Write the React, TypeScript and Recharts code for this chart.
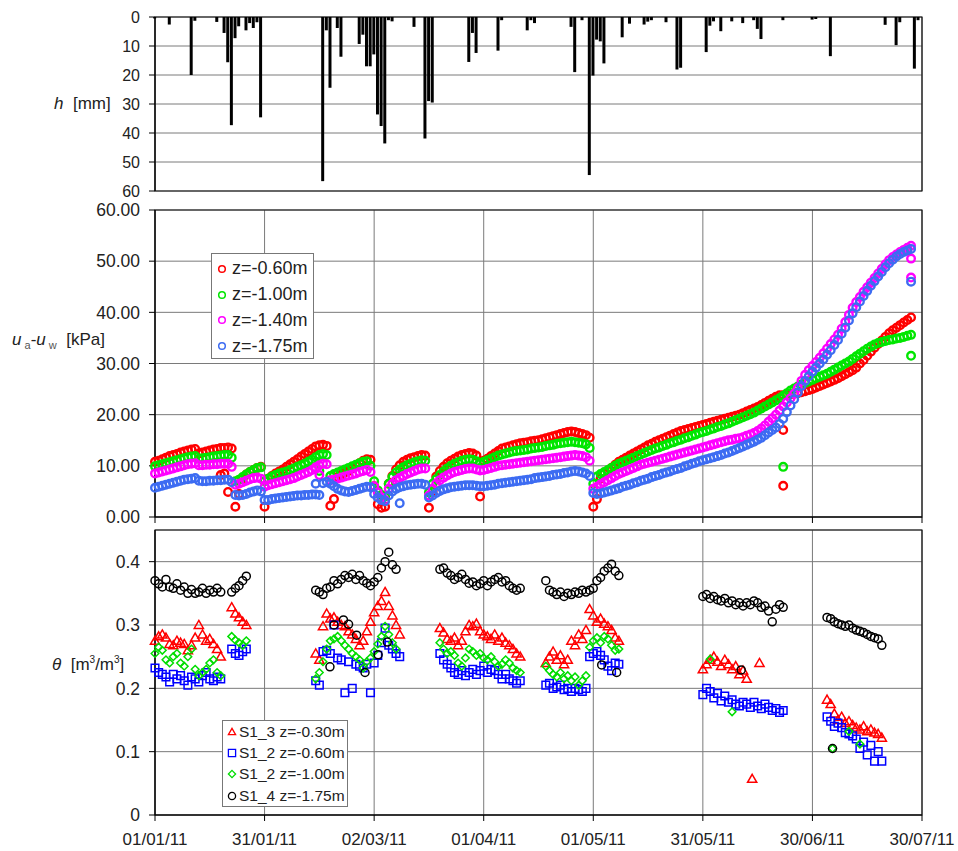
import React from "react";
import {
  BarChart,
  Bar,
  ScatterChart,
  Scatter,
  XAxis,
  YAxis,
  CartesianGrid,
  ReferenceArea,
  Legend,
} from "recharts";

const FONT = '"Liberation Sans", Arial, sans-serif';
const TEXT = "#222";

// x axis: days counted from 01/01/11
const dayTicks = [0, 30, 60, 90, 120, 150, 180, 210];
const dateLabels = ["01/01/11", "31/01/11", "02/03/11", "01/04/11", "01/05/11", "31/05/11", "30/06/11", "30/07/11"];

// daily rainfall h [mm]
const rainDay = [
  0, 4, 10, 11, 17, 19, 20, 21, 22, 23, 25, 26, 27, 28, 29, 46, 47, 48, 50, 51,
  56, 57, 58, 59, 60, 61, 62, 63, 64, 65, 71, 74, 75, 76, 86, 87, 88, 94, 95, 102,
  103, 104, 114, 115, 117, 119, 120, 121, 122, 123, 128, 130, 134, 135, 136, 140, 143, 144, 151, 152,
  153, 155, 158, 161, 164, 165, 166, 172, 180, 181, 185, 200, 203, 204, 208, 209,
];
const rainMm = [
  0.5, 2.6, 20, 1.3, 1.7, 5.5, 15.6, 37.3, 7.3, 3.2, 4.6, 2.1, 3.8, 1.8, 34.6, 56.6, 4.6, 24.4, 3.8, 13.7,
  9.3, 6.1, 17, 17, 12.9, 33.6, 37.6, 43.6, 1.1, 1.5, 3.4, 41.9, 29, 29.5, 15.5, 5.5, 12.4, 11.6, 1.1, 4.6,
  1.1, 2.1, 3.4, 19, 1.1, 54.5, 20.2, 7.8, 8.4, 16, 7, 2.3, 2.6, 1.6, 1.1, 1.8, 18.1, 17.5, 12.1, 3,
  1.5, 4.9, 1.5, 2.1, 1.1, 4.1, 7.6, 1.1, 0.9, 0.7, 13.5, 2.7, 9.7, 1.8, 17.8, 1.1,
];

// suction ua-uw [kPa], one value per day from day 0
const suction060 = [
  10.8, 11.0, 11.3, 11.6, 11.9, 12.1, 12.3, 12.6, 12.8, 13.0,
  13.2, 13.3, 12.4, 12.6, 12.8, 13.0, 13.2, 13.3, 13.5, 13.5,
  13.6, 13.4, 2.0, 4.5, 7.5, 8.3, 8.8, 9.2, 9.6, 9.8,
  2.0, 7.5, 8.0, 8.5, 8.9, 9.3, 9.8, 10.3, 10.8, 11.3,
  11.8, 12.3, 12.8, 13.3, 13.8, 14.0, 14.1, 13.9, 2.2, 3.5,
  7.8, 8.3, 8.7, 9.0, 9.5, 10.0, 10.5, 11.0, 11.3, 11.2,
  6.0, 2.5, 1.8, 2.0, 6.5, 8.0, 9.3, 10.1, 10.8, 11.2,
  11.5, 11.7, 11.9, 12.1, 12.0, 1.8, 5.0, 7.9, 9.0, 9.8,
  10.5, 11.0, 11.4, 11.8, 12.1, 12.3, 12.5, 12.4, 12.0, 4.0,
  11.0, 11.4, 11.9, 12.4, 12.9, 13.4, 13.6, 13.8, 14.0, 14.2,
  14.4, 14.5, 14.6, 14.8, 14.9, 15.0, 15.2, 15.4, 15.6, 15.8,
  16.0, 16.2, 16.4, 16.6, 16.7, 16.6, 16.4, 16.2, 16.0, 15.5,
  2.0, 3.5, 7.5, 8.5, 9.0, 9.6, 10.2, 10.8, 11.2, 11.6,
  12.0, 12.4, 12.8, 13.2, 13.6, 14.0, 14.3, 14.7, 15.0, 15.3,
  15.6, 15.9, 16.2, 16.5, 16.8, 17.0, 17.2, 17.4, 17.6, 17.8,
  18.0, 18.2, 18.4, 18.6, 18.8, 19.0, 19.2, 19.4, 19.6, 19.8,
  20.0, 20.3, 20.6, 20.9, 21.2, 21.5, 21.9, 22.3, 22.7, 23.1,
  23.5, 23.8, 23.8, 23.9, 24.0, 24.1, 24.2, 24.4, 24.6, 24.8,
  25.0, 25.3, 25.6, 25.9, 26.2, 26.5, 26.8, 27.1, 27.5, 27.9,
  28.3, 28.7, 29.2, 30.0, 30.7, 31.5, 32.3, 33.1, 33.8, 34.5,
  35.2, 35.9, 36.5, 37.0, 37.5, 38.0, 38.5, 39.0,
];
const suction100 = [
  9.9, 10.1, 10.3, 10.5, 10.7, 10.9, 11.1, 11.3, 11.5, 11.7,
  11.8, 11.9, 11.4, 11.5, 11.6, 11.7, 11.8, 11.9, 12.0, 12.1,
  12.1, 11.6, 7.0, 7.3, 7.8, 8.3, 8.8, 9.2, 9.6, 9.7,
  7.0, 7.5, 7.9, 8.2, 8.5, 8.7, 8.9, 9.2, 9.5, 9.8,
  10.1, 10.4, 10.8, 11.2, 11.7, 12.1, 12.3, 12.1, 8.0, 8.4,
  8.7, 9.0, 9.3, 9.6, 9.9, 10.2, 10.5, 10.8, 10.9, 10.0,
  7.0, 5.2, 4.3, 4.0, 6.5, 7.8, 8.7, 9.3, 9.7, 10.1,
  10.4, 10.7, 10.9, 11.1, 11.0, 4.8, 6.5, 7.4, 8.2, 8.9,
  9.5, 10.0, 10.4, 10.7, 11.0, 11.2, 11.3, 11.2, 10.9, 10.4,
  10.8, 11.1, 11.4, 11.7, 12.0, 12.2, 12.4, 12.6, 12.8, 12.9,
  13.0, 13.1, 13.2, 13.4, 13.5, 13.6, 13.7, 13.9, 14.0, 14.1,
  14.3, 14.4, 14.5, 14.6, 14.7, 14.6, 14.5, 14.4, 14.2, 13.5,
  6.5, 7.9, 8.4, 8.8, 9.2, 9.6, 10.0, 10.4, 10.7, 11.0,
  11.3, 11.6, 11.9, 12.2, 12.5, 12.8, 13.1, 13.4, 13.6, 13.9,
  14.1, 14.4, 14.6, 14.9, 15.1, 15.4, 15.6, 15.9, 16.1, 16.4,
  16.6, 16.8, 17.1, 17.3, 17.6, 17.8, 18.1, 18.3, 18.6, 18.9,
  19.2, 19.5, 19.8, 20.1, 20.4, 20.8, 21.2, 21.6, 22.0, 22.4,
  22.8, 23.2, 23.7, 24.2, 24.7, 25.1, 25.5, 25.9, 26.2, 26.5,
  26.8, 27.1, 27.4, 27.7, 28.0, 28.4, 28.8, 29.2, 29.6, 30.0,
  30.4, 30.9, 31.4, 31.9, 32.4, 32.9, 33.3, 33.7, 34.0, 34.2,
  34.4, 34.6, 34.7, 34.9, 35.0, 35.2, 35.4, 35.6,
];
const suction140 = [
  8.5, 8.7, 8.9, 9.1, 9.3, 9.5, 9.7, 9.9, 10.1, 10.3,
  10.4, 10.5, 10.1, 10.1, 10.2, 10.2, 10.3, 10.3, 10.4, 10.4,
  10.4, 9.8, 6.3, 6.5, 6.8, 7.1, 7.4, 7.6, 7.7, 7.5,
  5.9, 6.2, 6.4, 6.6, 6.8, 7.0, 7.2, 7.4, 7.6, 7.9,
  8.2, 8.5, 8.8, 9.2, 9.7, 10.1, 10.4, 10.3, 7.2, 7.3,
  7.5, 7.7, 7.9, 8.1, 8.3, 8.5, 8.8, 9.0, 9.2, 8.8,
  6.0, 4.8, 3.8, 3.3, 5.5, 6.5, 7.2, 7.6, 8.0, 8.4,
  8.7, 9.0, 9.3, 9.5, 9.5, 4.2, 5.5, 6.5, 7.2, 7.7,
  8.1, 8.5, 8.8, 9.0, 9.2, 9.4, 9.5, 9.5, 9.3, 9.1,
  9.2, 9.4, 9.6, 9.8, 10.0, 10.1, 10.2, 10.3, 10.4, 10.5,
  10.6, 10.7, 10.8, 10.9, 11.0, 11.1, 11.2, 11.3, 11.4, 11.5,
  11.6, 11.7, 11.8, 11.9, 12.0, 12.1, 12.0, 11.9, 11.7, 11.0,
  5.5, 5.9, 6.4, 6.8, 7.2, 7.6, 8.0, 8.4, 8.7, 9.0,
  9.3, 9.6, 9.9, 10.2, 10.4, 10.6, 10.8, 11.0, 11.2, 11.4,
  11.6, 11.8, 12.0, 12.2, 12.4, 12.6, 12.8, 13.0, 13.2, 13.4,
  13.6, 13.8, 14.0, 14.2, 14.4, 14.6, 14.8, 15.0, 15.1, 15.3,
  15.4, 15.6, 15.9, 16.1, 16.4, 16.8, 17.3, 17.9, 18.6, 19.3,
  20.0, 20.8, 21.6, 22.4, 23.2, 24.1, 25.2, 26.6, 27.8, 28.7,
  29.5, 30.3, 31.1, 32.0, 32.9, 33.8, 34.7, 35.6, 36.8, 38.1,
  39.5, 40.9, 42.0, 43.0, 44.0, 44.9, 45.8, 46.7, 47.6, 48.5,
  49.4, 50.2, 50.8, 51.3, 51.8, 52.2, 52.6, 53.0,
];
const suction175 = [
  5.7, 5.9, 6.1, 6.3, 6.5, 6.7, 6.9, 7.1, 7.3, 7.4,
  7.5, 7.6, 7.1, 7.0, 7.0, 7.1, 7.1, 7.2, 7.2, 7.3,
  7.3, 6.8, 4.3, 4.2, 4.3, 4.5, 4.8, 5.0, 5.2, 5.0,
  3.3, 3.3, 3.5, 3.6, 3.7, 3.8, 3.9, 4.0, 4.1, 4.2,
  4.2, 4.3, 4.3, 4.4, 4.4, 4.3, 6.6, 6.9, 6.5, 6.0,
  5.5, 5.2, 5.0, 4.9, 5.1, 5.3, 5.5, 5.7, 5.9, 5.8,
  4.5, 3.8, 3.3, 3.1, 4.2, 5.0, 5.5, 5.8, 6.0, 6.2,
  6.3, 6.4, 6.5, 6.5, 6.3, 3.8, 4.2, 4.7, 5.1, 5.4,
  5.6, 5.8, 5.9, 6.0, 6.1, 6.2, 6.2, 6.2, 6.1, 6.0,
  6.0, 6.1, 6.2, 6.3, 6.5, 6.6, 6.7, 6.8, 6.9, 7.0,
  7.1, 7.2, 7.3, 7.4, 7.6, 7.7, 7.8, 7.9, 8.0, 8.2,
  8.3, 8.4, 8.6, 8.7, 8.9, 9.0, 8.9, 8.7, 8.5, 8.0,
  4.7, 4.5, 4.6, 4.8, 5.0, 5.2, 5.4, 5.6, 5.9, 6.1,
  6.3, 6.6, 6.8, 7.1, 7.3, 7.5, 7.8, 8.0, 8.2, 8.5,
  8.7, 8.9, 9.2, 9.4, 9.6, 9.9, 10.1, 10.4, 10.6, 10.9,
  11.1, 11.3, 11.5, 11.7, 11.9, 12.1, 12.4, 12.6, 12.9, 13.2,
  13.5, 13.8, 14.1, 14.4, 14.7, 15.1, 15.5, 16.0, 16.5, 17.0,
  17.5, 18.2, 19.2, 20.5, 21.8, 23.0, 24.3, 25.6, 26.6, 27.5,
  28.4, 29.2, 30.0, 30.8, 31.7, 32.6, 33.6, 34.6, 35.8, 37.0,
  38.4, 39.8, 41.0, 42.1, 43.2, 44.2, 45.2, 46.1, 47.0, 47.9,
  48.8, 49.6, 50.3, 50.9, 51.4, 51.8, 52.1, 52.4,
];
// isolated readings [day, kPa]
const suction060Extra = [[18, 8.2], [19, 8.5], [20, 4.9], [172, 17.0], [172, 6.1]];
const suction100Extra = [[44, 10.8], [45, 9.0], [172, 9.8], [207, 31.5]];
const suction140Extra = [[44, 9.5], [45, 8.2], [207, 46.8], [207, 50.5]];
const suction175Extra = [[67, 2.7], [44, 6.5], [207, 46.0]];

// water content theta [m3/m3]; readings come in runs, each run starts at segStart[k]
const segStart = [0, 21, 44, 78, 107, 150, 184];
const thetaS13 = [
  [0.275, 0.282, 0.285, 0.28, 0.27, 0.268, 0.275, 0.272, 0.27, 0.26, 0.268, 0.28, 0.3, 0.285, 0.275, 0.278, 0.27, 0.262, 0.25],
  [0.328, 0.318, 0.312, 0.305, 0.3],
  [0.255, 0.245, 0.298, 0.318, 0.31, 0.312, 0.305, 0.3, 0.298, 0.29, 0.285, 0.278, 0.268, 0.275, 0.29, 0.305, 0.32, 0.33, 0.338, 0.352, 0.33, 0.315, 0.3, 0.285],
  [0.295, 0.288, 0.278, 0.275, 0.28, 0.268, 0.275, 0.29, 0.3, 0.298, 0.302, 0.29, 0.285, 0.282, 0.278, 0.285, 0.275, 0.28, 0.272, 0.268, 0.262, 0.255, 0.25],
  [0.24, 0.25, 0.258, 0.245, 0.252, 0.238, 0.245, 0.275, 0.268, 0.285, 0.278, 0.292, 0.325, 0.315, 0.305, 0.31, 0.302, 0.298, 0.292, 0.28, 0.275],
  [0.23, 0.238, 0.245, 0.25, 0.242, 0.235, 0.245, 0.238, 0.23, 0.235, 0.222, 0.228, 0.215],
  [0.182, 0.175, 0.16, 0.15, 0.155, 0.145, 0.148, 0.142, 0.138, 0.135, 0.14, 0.132, 0.135, 0.13, 0.128, 0.122],
];
const thetaS12a = [
  [0.232, 0.225, 0.222, 0.218, 0.21, 0.222, 0.215, 0.22, 0.212, 0.205, 0.218, 0.215, 0.21, 0.22, 0.225, 0.215, 0.212, 0.218, 0.215],
  [0.262, 0.255, 0.252, 0.258, 0.262],
  [0.212, 0.205, 0.258, 0.26, 0.255, 0.3, 0.248, 0.245, 0.193, 0.242, 0.2, 0.238, 0.235, 0.232, 0.238, 0.193, 0.24, 0.252, 0.272, 0.295, 0.268, 0.262, 0.255, 0.25],
  [0.255, 0.245, 0.238, 0.232, 0.225, 0.222, 0.228, 0.22, 0.225, 0.23, 0.222, 0.228, 0.235, 0.225, 0.23, 0.228, 0.222, 0.215, 0.222, 0.215, 0.212, 0.208, 0.212],
  [0.205, 0.208, 0.2, 0.202, 0.205, 0.198, 0.2, 0.195, 0.2, 0.198, 0.195, 0.2, 0.25, 0.255, 0.258, 0.252, 0.245, 0.235, 0.228, 0.24, 0.238],
  [0.19, 0.2, 0.195, 0.185, 0.192, 0.18, 0.188, 0.178, 0.182, 0.175, 0.172, 0.178, 0.175, 0.17, 0.178, 0.172, 0.168, 0.175, 0.17, 0.165, 0.168, 0.162, 0.165],
  [0.155, 0.148, 0.14, 0.145, 0.138, 0.13, 0.128, 0.125, 0.12, 0.105, 0.115, 0.095, 0.11, 0.085, 0.1, 0.085],
];
const thetaS12b = [
  [0.255, 0.265, 0.26, 0.245, 0.24, 0.25, 0.255, 0.24, 0.235, 0.25, 0.262, 0.23, 0.22, 0.225, 0.23, 0.24, 0.245, 0.225, 0.22],
  [0.282, 0.276, 0.272, 0.268, 0.275],
  [0.215, 0.225, 0.242, 0.262, 0.275, 0.278, 0.282, 0.275, 0.268, 0.262, 0.255, 0.25, 0.245, 0.232, 0.242, 0.248, 0.258, 0.27, 0.282, 0.298, 0.285, 0.272, 0.262],
  [0.272, 0.262, 0.255, 0.258, 0.252, 0.24, 0.235, 0.248, 0.262, 0.258, 0.252, 0.255, 0.248, 0.245, 0.25, 0.242, 0.235, 0.238, 0.245, 0.24, 0.232, 0.228, 0.225],
  [0.235, 0.228, 0.222, 0.218, 0.225, 0.215, 0.22, 0.212, 0.218, 0.205, 0.212, 0.22, 0.265, 0.275, 0.28, 0.272, 0.282, 0.278, 0.268, 0.26, 0.262],
  [],
  [],
];
const thetaS14 = [
  [0.37, 0.365, 0.36, 0.372, 0.36, 0.358, 0.365, 0.355, 0.36, 0.35, 0.356, 0.35, 0.352, 0.358, 0.35, 0.355, 0.352, 0.358, 0.352],
  [0.352, 0.358, 0.362, 0.37, 0.377],
  [0.355, 0.352, 0.348, 0.358, 0.36, 0.37, 0.365, 0.372, 0.378, 0.375, 0.38, 0.372, 0.378, 0.37, 0.366, 0.362, 0.368, 0.375, 0.39, 0.4, 0.415, 0.395, 0.388],
  [0.388, 0.39, 0.382, 0.378, 0.372, 0.375, 0.38, 0.372, 0.366, 0.368, 0.362, 0.365, 0.37, 0.362, 0.368, 0.372, 0.375, 0.368, 0.37, 0.362, 0.358, 0.355, 0.358],
  [0.37, 0.355, 0.352, 0.348, 0.352, 0.345, 0.35, 0.348, 0.352, 0.35, 0.355, 0.352, 0.355, 0.358, 0.37, 0.375, 0.385, 0.39, 0.396, 0.385, 0.378],
  [0.345, 0.348, 0.342, 0.345, 0.34, 0.338, 0.342, 0.335, 0.338, 0.332, 0.335, 0.33, 0.335, 0.332, 0.338, 0.335, 0.328, 0.33, 0.322, 0.305, 0.325, 0.332, 0.328],
  [0.312, 0.31, 0.305, 0.302, 0.3, 0.298, 0.3, 0.295, 0.292, 0.29, 0.288, 0.285, 0.282, 0.28, 0.278, 0.268],
];
const thetaS13Extra = [[165.5, 0.24], [163.5, 0.057]];
const thetaS12aExtra: number[][] = [];
const thetaS12bExtra = [[152, 0.246], [158, 0.163], [190, 0.132], [193, 0.112], [185.5, 0.105]];
const thetaS14Extra = [
  [49, 0.3], [51.6, 0.308], [53, 0.301], [55.2, 0.284], [47.9, 0.234], [57.5, 0.225], [61.1, 0.253],
  [63.6, 0.273], [122.3, 0.237], [126.4, 0.225], [160.5, 0.229], [185.5, 0.105],
];

const rainData = rainDay.map((day, i) => ({ day, h: rainMm[i] }));

const dailyPoints = (vals: number[], extra: number[][]) => [
  ...vals.map((v, day) => ({ day, v })),
  ...extra.map(([day, v]) => ({ day, v })),
];
const segPoints = (segs: number[][], extra: number[][]) => [
  ...segs.flatMap((seg, k) => seg.map((v, i) => ({ day: segStart[k] + i, v }))),
  ...extra.map(([day, v]) => ({ day, v })),
];

const suctionSeries = [
  { name: "z=-0.60m", color: "#ff0000", data: dailyPoints(suction060, suction060Extra) },
  { name: "z=-1.00m", color: "#00e600", data: dailyPoints(suction100, suction100Extra) },
  { name: "z=-1.40m", color: "#ff00ff", data: dailyPoints(suction140, suction140Extra) },
  { name: "z=-1.75m", color: "#3d6cf2", data: dailyPoints(suction175, suction175Extra) },
];

const thetaSeries = [
  { name: "S1_3 z=-0.30m", color: "#ff0000", marker: "triangle", data: segPoints(thetaS13, thetaS13Extra) },
  { name: "S1_2 z=-0.60m", color: "#0000ff", marker: "square", data: segPoints(thetaS12a, thetaS12aExtra) },
  { name: "S1_2 z=-1.00m", color: "#00dd00", marker: "diamond", data: segPoints(thetaS12b, thetaS12bExtra) },
  { name: "S1_4 z=-1.75m", color: "#000000", marker: "circle", data: segPoints(thetaS14, thetaS14Extra) },
];

function markerPath(marker: string, cx: number, cy: number, s: number) {
  if (marker === "triangle") return `M${cx},${cy - s} L${cx + s},${cy + s * 0.75} L${cx - s},${cy + s * 0.75} Z`;
  if (marker === "square") return `M${cx - s},${cy - s} H${cx + s} V${cy + s} H${cx - s} Z`;
  if (marker === "diamond") return `M${cx},${cy - s} L${cx + s},${cy} L${cx},${cy + s} L${cx - s},${cy} Z`;
  return "";
}

function Marker({ marker, cx, cy, color, s, w = 1.4 }: any) {
  if (cx == null || cy == null) return null;
  if (marker === "circle") {
    return <circle cx={cx} cy={cy} r={s} fill="none" stroke={color} strokeWidth={w} />;
  }
  return <path d={markerPath(marker, cx, cy, s)} fill="none" stroke={color} strokeWidth={w} />;
}

const sizeOf: { [k: string]: number } = { triangle: 4.6, square: 3.8, diamond: 3.8, circle: 4 };

function SuctionLegend() {
  return (
    <div style={{ width: 101, height: 102, border: "1px solid #777", background: "#fff", paddingTop: 2, boxSizing: "content-box" }}>
      {suctionSeries.map((s) => (
        <div key={s.name} style={{ height: 25.8, display: "flex", alignItems: "center", fontSize: 18, color: TEXT, whiteSpace: "nowrap" }}>
          <svg width={20} height={12} style={{ flex: "none" }}>
            <circle cx={10} cy={6} r={3.3} fill="none" stroke={s.color} strokeWidth={1.5} />
          </svg>
          <span>{s.name}</span>
        </div>
      ))}
    </div>
  );
}

function ThetaLegend() {
  return (
    <div style={{ width: 124, height: 85, border: "1px solid #777", background: "#fff", boxSizing: "content-box" }}>
      {thetaSeries.map((s) => (
        <div key={s.name} style={{ height: 21.4, display: "flex", alignItems: "center", fontSize: 15.5, color: TEXT, whiteSpace: "nowrap" }}>
          <svg width={16} height={12} style={{ flex: "none" }}>
            <Marker marker={s.marker} cx={9} cy={6} color={s.color} s={3.6} w={1.3} />
          </svg>
          <span>{s.name}</span>
        </div>
      ))}
    </div>
  );
}

const yTitle: React.CSSProperties = { position: "absolute", fontSize: 17, lineHeight: "20px", color: TEXT, whiteSpace: "nowrap" };

export default function App() {
  const dateTick = (v: number) => dateLabels[dayTicks.indexOf(v)];
  return (
    <div style={{ position: "absolute", left: 0, top: 0, width: 958, height: 851, background: "#fff", fontFamily: FONT }}>
      {/* rainfall */}
      <div style={{ position: "absolute", left: 0, top: 0 }}>
        <BarChart width={958} height={200} data={rainData} margin={{ top: 17, right: 36, bottom: 0, left: 0 }}>
          <CartesianGrid stroke="#7a7a7a" />
          <XAxis type="number" dataKey="day" domain={[0, 210]} ticks={dayTicks} interval={0} height={9} tick={false} tickLine={false} axisLine={false} />
          <YAxis
            reversed
            domain={[0, 60]}
            ticks={[0, 10, 20, 30, 40, 50, 60]}
            interval={0}
            width={155}
            tickSize={6}
            tickMargin={9}
            stroke="#000"
            tick={{ fill: TEXT, fontSize: 16, fontFamily: FONT }}
          />
          <ReferenceArea x1={0} x2={210} y1={0} y2={60} fill="none" stroke="#111" strokeWidth={1.2} />
          <Bar dataKey="h" fill="#000" barSize={3} isAnimationActive={false} />
        </BarChart>
      </div>

      {/* suction */}
      <div style={{ position: "absolute", left: 0, top: 200 }}>
        <ScatterChart width={958} height={330} margin={{ top: 10, right: 36, bottom: 0, left: 0 }}>
          <CartesianGrid stroke="#7a7a7a" />
          <XAxis
            type="number"
            dataKey="day"
            domain={[0, 210]}
            ticks={dayTicks}
            interval={0}
            height={13}
            tickSize={6}
            tickFormatter={() => ""}
            stroke="#000"
          />
          <YAxis
            type="number"
            dataKey="v"
            domain={[0, 60]}
            ticks={[0, 10, 20, 30, 40, 50, 60]}
            interval={0}
            width={155}
            tickSize={6}
            tickMargin={9}
            stroke="#000"
            tickFormatter={(v: number) => v.toFixed(2)}
            tick={{ fill: TEXT, fontSize: 17.5, fontFamily: FONT }}
          />
          <ReferenceArea x1={0} x2={210} y1={0} y2={60} fill="none" stroke="#111" strokeWidth={1.2} />
          {suctionSeries.map((s) => (
            <Scatter
              key={s.name}
              name={s.name}
              data={s.data}
              isAnimationActive={false}
              shape={(p: any) => <Marker marker="circle" cx={p.cx} cy={p.cy} color={s.color} s={3.8} w={2.4} />}
            />
          ))}
          <Legend
            layout="vertical"
            align="center"
            verticalAlign="middle"
            content={() => <SuctionLegend />}
            wrapperStyle={{ left: 211, top: 53, width: 103, height: 105, right: "auto", bottom: "auto" }}
          />
        </ScatterChart>
      </div>

      {/* water content */}
      <div style={{ position: "absolute", left: 0, top: 520 }}>
        <ScatterChart width={958} height={331} margin={{ top: 10, right: 36, bottom: 0, left: 0 }}>
          <CartesianGrid stroke="#7a7a7a" />
          <XAxis
            type="number"
            dataKey="day"
            domain={[0, 210]}
            ticks={dayTicks}
            interval={0}
            height={36}
            tickSize={6}
            tickMargin={12}
            stroke="#000"
            tickFormatter={dateTick}
            tick={{ fill: TEXT, fontSize: 17, fontFamily: FONT }}
          />
          <YAxis
            type="number"
            dataKey="v"
            domain={[0, 0.45]}
            ticks={[0, 0.1, 0.2, 0.3, 0.4]}
            interval={0}
            width={155}
            tickSize={6}
            tickMargin={9}
            stroke="#000"
            tickFormatter={(v: number) => (v === 0 ? "0" : String(v))}
            tick={{ fill: TEXT, fontSize: 17.5, fontFamily: FONT }}
          />
          <ReferenceArea x1={0} x2={210} y1={0} y2={0.45} fill="none" stroke="#111" strokeWidth={1.2} />
          {thetaSeries.map((s) => (
            <Scatter
              key={s.name}
              name={s.name}
              data={s.data}
              isAnimationActive={false}
              shape={(p: any) => <Marker marker={s.marker} cx={p.cx} cy={p.cy} color={s.color} s={sizeOf[s.marker]} w={1.5} />}
            />
          ))}
          <Legend
            layout="vertical"
            align="center"
            verticalAlign="middle"
            content={() => <ThetaLegend />}
            wrapperStyle={{ left: 222, top: 200, width: 126, height: 87, right: "auto", bottom: "auto" }}
          />
        </ScatterChart>
      </div>

      {/* axis titles */}
      <div style={{ ...yTitle, left: 54, top: 94 }}>
        <i>h</i>&nbsp; [mm]
      </div>
      <div style={{ ...yTitle, left: 12, top: 330 }}>
        <i>u</i>
        <sub style={{ fontSize: 11, color: "#555" }}> a</sub>-<i>u</i>
        <sub style={{ fontSize: 11, color: "#555" }}> w</sub>&nbsp; [kPa]
      </div>
      <div style={{ ...yTitle, left: 52, top: 650 }}>
        <i>θ</i>&nbsp; [m<sup style={{ fontSize: 10 }}>3</sup>/m<sup style={{ fontSize: 10 }}>3</sup>]
      </div>
    </div>
  );
}
